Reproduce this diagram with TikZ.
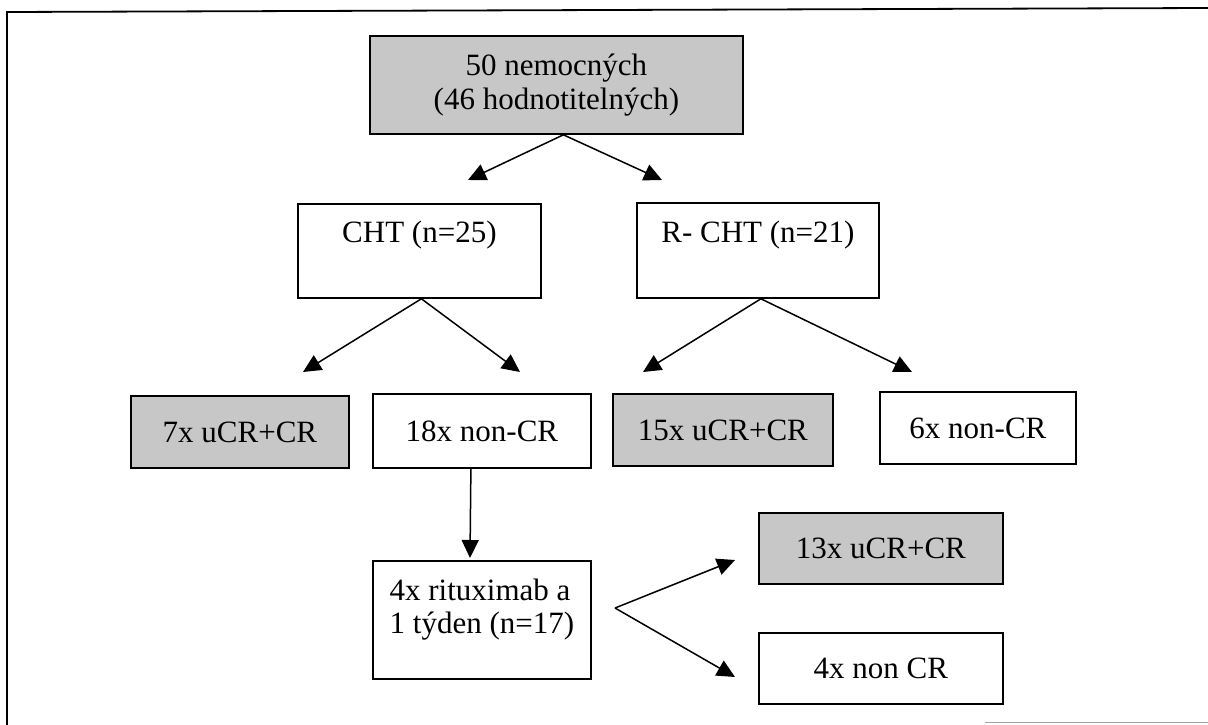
\documentclass[tikz,border=0pt]{standalone}
\usepackage{fontspec}
\setmainfont{Liberation Serif}
\usetikzlibrary{arrows.meta}
\tikzset{
  box/.style={draw=black, line width=1.8pt, inner sep=0pt, anchor=north west,
    font=\fontsize{31}{34}\selectfont},
  graybox/.style={box, fill=black!22},
  conn/.style={line width=1.5pt, -{Triangle[length=18pt,width=17pt]}},
  frame/.style={line width=1.8pt},
}
\begin{document}
\begin{tikzpicture}[x=1pt,y=-1pt]
\useasboundingbox (0,0) rectangle (1208,725);
% outer frame
\draw[frame] (1208,8) -- (7,12) -- (7,725);
\draw[black!35, line width=1pt] (985,722) -- (1208,722);

% boxes
\node[graybox, minimum width=373pt, minimum height=98pt, align=center] (top) at (369,35)
  {50 nemocných\\(46 hodnotitelných)};
\node[box, minimum width=243pt, text height=39pt, text depth=55pt] (cht) at (297,203) {CHT (n=25)};
\node[box, minimum width=242pt, text height=40pt, text depth=55pt] (rcht) at (636,202) {R- CHT (n=21)};

\node[graybox, minimum width=218pt, minimum height=72pt] (a7) at (130,395) {7x uCR+CR};
\node[box, minimum width=218pt, minimum height=74pt] (n18) at (372,393) {18x non-CR};
\node[graybox, minimum width=220pt, minimum height=72pt] (a15) at (612,393) {15x uCR+CR};
\node[box, minimum width=196pt, minimum height=72pt] (n6) at (879,391) {6x non-CR};

\node[box, minimum width=218pt, text height=73pt, text depth=45pt, align=left,
  font=\fontsize{31}{33}\selectfont] (rit) at (372,560) {4x rituximab a\\1 týden (n=17)};

\node[graybox, minimum width=244pt, minimum height=71pt] (a13) at (758,512) {13x uCR+CR};
\node[box, minimum width=244pt, minimum height=71pt] (n4) at (758,632) {4x non CR};

% arrow ends
\coordinate (t1) at (468,180);
\coordinate (t2) at (662,180);
\coordinate (t3) at (303,372);
\coordinate (t4) at (520,372);
\coordinate (t5) at (643,372);
\coordinate (t6) at (912,372);
\coordinate (t7) at (470,558);
\coordinate (fork) at (615,608);
\coordinate (t8) at (735,560);
\coordinate (t9) at (735,677);

% connectors
\draw[conn] ([xshift=7pt]top.south) -- (t1);
\draw[conn] ([xshift=7pt]top.south) -- (t2);
\draw[conn] ([xshift=2pt]cht.south) -- (t3);
\draw[conn] ([xshift=2pt]cht.south) -- (t4);
\draw[conn] ([xshift=3pt]rcht.south) -- (t5);
\draw[conn] ([xshift=3pt]rcht.south) -- (t6);
\draw[conn] ([xshift=-11pt]n18.south) -- (t7);
\draw[conn] (fork) -- (t8);
\draw[conn] (fork) -- (t9);
\end{tikzpicture}
\end{document}
